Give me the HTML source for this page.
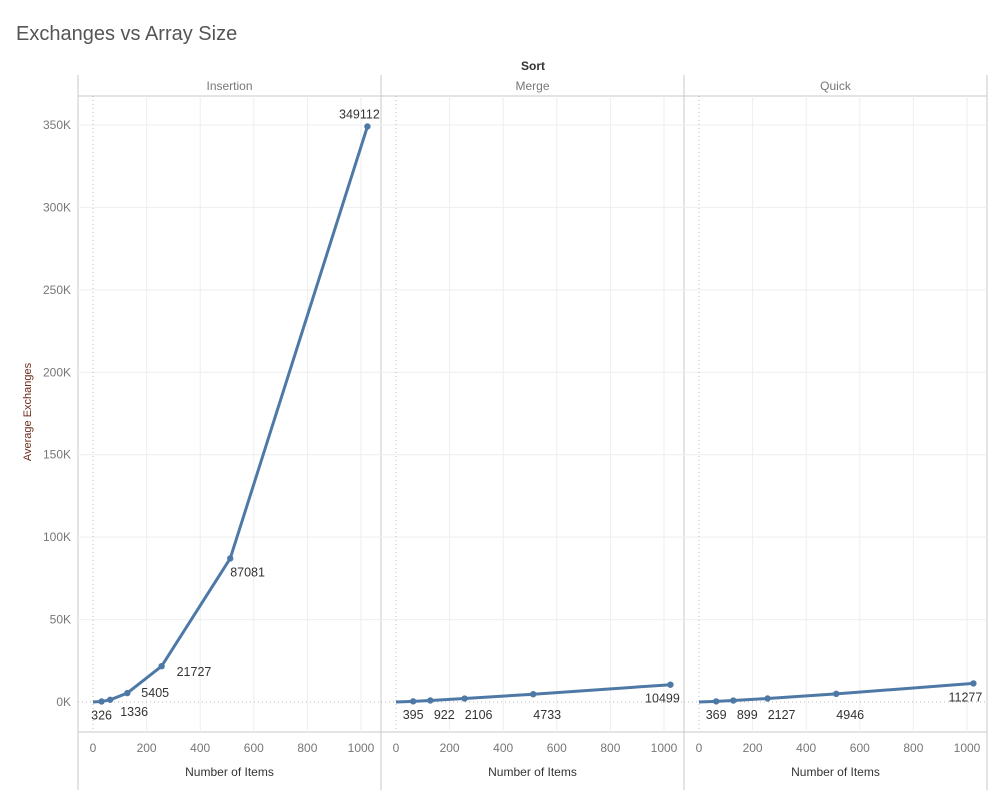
<!DOCTYPE html>
<html><head><meta charset="utf-8"><style>
body{margin:0;background:#fff;font-family:"Liberation Sans",sans-serif}
svg text{font-family:"Liberation Sans",sans-serif}
</style></head><body>
<svg id="c" width="1000" height="800" xmlns="http://www.w3.org/2000/svg">
<text x="16" y="40" font-size="20" fill="#555">Exchanges vs Array Size</text>
<text x="533" y="70" font-size="12" font-weight="bold" fill="#333" text-anchor="middle">Sort</text>
<text transform="translate(31,412) rotate(-90)" font-size="11" fill="#6b2b1a" text-anchor="middle">Average Exchanges</text>
<g id="g"></g>
</svg>
<script>
const sorts=["Insertion","Merge","Quick"];
const insertionItems=[0,32,64,128,256,512,1024];
const insertionVals=[0,326,1336,5405,21727,87081,349112];
const mergeItems=[0,64,128,256,512,1024];
const mergeVals=[0,395,922,2106,4733,10499];
const quickItems=[0,64,128,256,512,1024];
const quickVals=[0,369,899,2127,4946,11277];
const yTicks=[0,50000,100000,150000,200000,250000,300000,350000];
const xTicks=[0,200,400,600,800,1000];
const seriesItems=[insertionItems,mergeItems,quickItems];
const seriesVals=[insertionVals,mergeVals,quickVals];
const NS="http://www.w3.org/2000/svg";
const g=document.getElementById('g');
function mk(t,a,p){const e=document.createElementNS(NS,t);for(const k in a)e.setAttribute(k,a[k]);(p||g).appendChild(e);return e;}
const plotTop=96,plotBot=732,panelW=303,left0=78;
const y=v=>702-v*(577/350000);
const x=(p,v)=>left0+15+p*panelW+v*0.268;
let fr=mk('line',{x1:78,y1:75,x2:78,y2:790,stroke:'#c8c8c8'});


yTicks.forEach(t=>{
 const l=mk('text',{x:71,y:y(t)+4,'font-size':12,fill:'#777','text-anchor':'end'});l.textContent=(t/1000)+'K';
 
 
});
sorts.forEach((s,p)=>{
 const L=left0+p*panelW,R=L+panelW;
 const sep=mk('line',{x1:R,y1:75,x2:R,y2:790,stroke:'#c8c8c8'});
 
 
 mk('line',{x1:L,y1:96,x2:R,y2:96,stroke:'#c8c8c8'});
 mk('line',{x1:L,y1:plotBot,x2:R,y2:plotBot,stroke:'#c8c8c8'});
 const h=mk('text',{x:(L+R)/2,y:90,'font-size':12,fill:'#777','text-anchor':'middle'});h.textContent=s;
 
 
 yTicks.forEach(t=>{if(t>0)mk('line',{x1:L,y1:y(t),x2:R,y2:y(t),stroke:'#eee'});});
 xTicks.forEach(t=>{
  if(t>0)mk('line',{x1:x(p,t),y1:plotTop,x2:x(p,t),y2:plotBot,stroke:'#eee'});
  const l=mk('text',{x:x(p,t),y:752,'font-size':12,fill:'#777','text-anchor':'middle'});l.textContent=t;
  
  
 });
 mk('line',{x1:L,y1:y(0),x2:R,y2:y(0),stroke:'#bbb','stroke-dasharray':'1,3'});
 mk('line',{x1:x(p,0),y1:plotTop,x2:x(p,0),y2:plotBot,stroke:'#bbb','stroke-dasharray':'1,3'});
 const xt=mk('text',{x:(L+R)/2,y:776,'font-size':12,fill:'#333','text-anchor':'middle'});xt.textContent='Number of Items';
 
 
 const its=seriesItems[p],vals=seriesVals[p];
 const pl=mk('polyline',{points:its.map((v,i)=>x(p,v)+','+y(vals[i])).join(' '),fill:'none',stroke:'#4e79a7','stroke-width':3,'stroke-linejoin':'round'});
 
 
 its.forEach((v,i)=>{
  if(i===0)return;
  const c=mk('circle',{cx:x(p,v),cy:y(vals[i]),r:3.2,fill:'#4e79a7'});
  
  
 });
 its.forEach((v,i)=>{
  if(i===0)return;
  const n=its.length-1;
  let lx=x(p,v),ly,anc='middle';
  if(p===0){
   if(i===n){ly=y(vals[i])-8;lx-=8;}
   else if(i===n-1){ly=y(vals[i])+18;anc='start';}
   else if(i===n-2){lx+=15;ly=y(vals[i])+10;anc='start';}
   else if(i===n-3){lx+=14;ly=y(vals[i])+4;anc='start';}
   else if(i===2){lx+=24;ly=y(vals[i])+16;}
   else {ly=y(vals[i])+18;}
  } else {
   if(i===n){lx-=8;ly=y(vals[i])+18;}
   else {ly=719;if(i>1)lx+=14;}
  }
  const t=mk('text',{x:lx,y:ly,'font-size':12.5,fill:'#333','text-anchor':anc});t.textContent=vals[i];
  
  
 });
});
</script>
</body></html>
